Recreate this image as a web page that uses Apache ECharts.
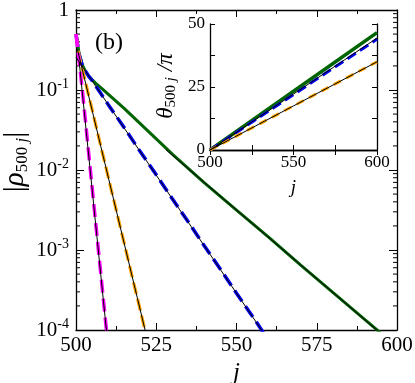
<!DOCTYPE html>
<html><head><meta charset="utf-8">
<script src="https://cdn.jsdelivr.net/npm/echarts@6/dist/echarts.min.js"></script>
<style>html,body{margin:0;padding:0;background:#fff}#c{width:415px;height:383px}</style>
</head><body><div id="c"></div>
<script>
// ---- main panel data: |rho_{500 j}| vs j ----
const jGreen   = [500,501,502,503,504,505,506,508,510,515,520,525,530,540,550,560,570,580,590,595];
const rhoGreen = [0.501,0.282,0.204,0.170,0.148,0.135,0.123,0.105,0.0891,0.0589,0.0380,0.0245,0.0158,0.00692,0.00316,0.00145,0.000646,0.000295,0.000135,0.0000912];
const jBlue    = [500,501,502,503,504,505,506,508,510,515,520,525,530,535,540,545,550,555,560];
const rhoBlue  = [0.501,0.275,0.200,0.170,0.148,0.132,0.115,0.0871,0.0661,0.0339,0.0170,0.00871,0.00437,0.00224,0.00112,0.000575,0.000288,0.000148,0.0000741];
const jOrange  = [500,501,502,503,504,505,506,507,508,509,510,511,512,513,514,515,516,517,518,519,520,521,522];
const rhoOrange= [0.501,0.263,0.182,0.123,0.0832,0.0575,0.0389,0.0263,0.0178,0.0123,0.00832,0.00562,0.00389,0.00263,0.00178,0.00123,0.000832,0.000562,0.000380,0.000263,0.000178,0.000120,0.0000832];
const jMagenta = [500,501,502,503,504,505,506,507,508,509,510];
const rhoMagenta=[0.501,0.224,0.098,0.039,0.0155,0.0062,0.00245,0.00098,0.00039,0.000155,0.000062];
// thin black exponential fits (end points)
const jFitGreen = [528,595],   rhoFitGreen = [0.0180,0.0000902];
const jFitBlue  = [500,560],   rhoFitBlue  = [0.257,0.0000741];
const jFitOrange= [500.5,522], rhoFitOrange= [0.316,0.0000832];
const jFitMag   = [501,510.5], rhoFitMag   = [0.224,0.000039];
// ---- inset data: theta_{500 j}/pi vs j ----
const jInset = [500,550,600];
const thGreen = [0,23.3,46.6];
const thBlue  = [0,22.0,44.0];
const thOrange= [0,17.5,35.0];
const thFitBlue  = [0,22.2,44.4];
const thFitOrange= [0,17.5,35.0];
// tick labels
const xTicksMain = [500,525,550,575,600];
const yDecades = [1e-4,1e-3,1e-2,1e-1,1];

const zip = (a,b)=>a.map((x,i)=>[x,b[i]]);
const serif = "'Liberation Serif', 'Times New Roman', serif";
const minorVals = [];
for (let d=0; d<yDecades.length-1; d++) for (let k=2;k<=9;k++) minorVals.push([500, yDecades[d]*k]);

const tickCommon = {inside:true, length:7, lineStyle:{color:'#000',width:1}};
const axLine = {show:true, lineStyle:{color:'#000', width:1.3}};

const chart = echarts.init(document.getElementById('c'), null, {renderer:'canvas'});
chart.setOption({
  animation:false,
  backgroundColor:'#fff',
  textStyle:{fontFamily:serif},
  grid:[
    {left:76, top:10, width:321, height:320, show:false, containLabel:false, outerBoundsMode:'none'},
    {left:210, top:24, width:167, height:126, show:true, backgroundColor:'#fff', borderWidth:0, z:5, containLabel:false, outerBoundsMode:'none'}
  ],
  xAxis:[
    {type:'value', gridIndex:0, min:500, max:600, interval:25, position:'bottom',
     axisLine:axLine, axisTick:tickCommon, minorTick:{show:true, splitNumber:2, length:4, lineStyle:{color:'#000'}},
     splitLine:{show:false},
     axisLabel:{fontFamily:serif, fontSize:21, color:'#000', margin:5},
     name:'j', nameLocation:'middle', nameGap:28,
     nameTextStyle:{fontFamily:serif, fontStyle:'italic', fontSize:25, color:'#000'}},
    {type:'value', gridIndex:0, min:500, max:600, interval:25, position:'top',
     axisLine:axLine, axisTick:tickCommon, minorTick:{show:true, splitNumber:2, length:4, lineStyle:{color:'#000'}},
     splitLine:{show:false}, axisLabel:{show:false}},
    {type:'value', gridIndex:1, min:500, max:600, interval:50, position:'bottom', z:6,
     axisLine:axLine, axisTick:{inside:true,length:5,lineStyle:{color:'#000'}},
     minorTick:{show:true, splitNumber:2, length:5, lineStyle:{color:'#000'}},
     splitLine:{show:false},
     axisLabel:{fontFamily:serif, fontSize:17, color:'#000', margin:4},
     name:'j', nameLocation:'middle', nameGap:28,
     nameTextStyle:{fontFamily:serif, fontStyle:'italic', fontSize:19, color:'#000'}},
    {type:'value', gridIndex:1, min:500, max:600, interval:50, position:'top', z:6,
     axisLine:axLine, axisTick:{inside:true,length:5,lineStyle:{color:'#000'}},
     minorTick:{show:true, splitNumber:2, length:5, lineStyle:{color:'#000'}},
     splitLine:{show:false}, axisLabel:{show:false}}
  ],
  yAxis:[
    {type:'log', logBase:10, gridIndex:0, min:1e-4, max:1, position:'left',
     axisLine:axLine, axisTick:{inside:true, length:8, lineStyle:{color:'#000'}},
     minorTick:{show:false}, splitLine:{show:false},
     axisLabel:{margin:7, color:'#000',
       formatter:v=>{const e=Math.round(Math.log10(v)); return e===0?'{b|1}':'{b|10}{s|'+e+'}';},
       rich:{b:{fontFamily:serif,fontSize:21,color:'#000',lineHeight:26},
             s:{fontFamily:serif,fontSize:14,color:'#000',verticalAlign:'top',lineHeight:14}}}},
    {type:'log', logBase:10, gridIndex:0, min:1e-4, max:1, position:'right',
     axisLine:axLine, axisTick:{inside:true, length:8, lineStyle:{color:'#000'}},
     minorTick:{show:false}, splitLine:{show:false}, axisLabel:{show:false}},
    {type:'value', gridIndex:1, min:0, max:50, interval:25, position:'left', z:6,
     axisLine:axLine, axisTick:{inside:true,length:5,lineStyle:{color:'#000'}},
     minorTick:{show:true, splitNumber:2, length:5, lineStyle:{color:'#000'}},
     splitLine:{show:false},
     axisLabel:{fontFamily:serif, fontSize:17, color:'#000', margin:5}},
    {type:'value', gridIndex:1, min:0, max:50, interval:25, position:'right', z:6,
     axisLine:axLine, axisTick:{inside:true,length:5,lineStyle:{color:'#000'}},
     minorTick:{show:true, splitNumber:2, length:5, lineStyle:{color:'#000'}},
     splitLine:{show:false}, axisLabel:{show:false}}
  ],
  graphic:[
    {type:'text', left:95, top:31, style:{text:'(b)', fontFamily:serif, fontSize:24, fill:'#000'}},
    {type:'text', x:15, y:162, rotation:Math.PI/2, z:10,
     style:{text:'{a||}{r|ρ}{sub|500 }{sj|j}{a||}', align:'center', verticalAlign:'middle',
       rich:{
         a:{fontFamily:serif,fontSize:30,fill:'#000',lineHeight:32},
         r:{fontFamily:serif,fontSize:29,fontStyle:'italic',fill:'#000',lineHeight:32},
         sub:{fontFamily:serif,fontSize:17,fill:'#000',verticalAlign:'bottom',lineHeight:17},
         sj:{fontFamily:serif,fontSize:17,fontStyle:'italic',fill:'#000',verticalAlign:'bottom',lineHeight:17}}}},
    {type:'text', x:166, y:86, rotation:Math.PI/2, z:10,
     style:{text:'{t|θ}{sub|500 }{sj|j}{t| /π}', align:'center', verticalAlign:'middle',
       rich:{
         t:{fontFamily:serif,fontSize:23,fontStyle:'italic',fill:'#000',lineHeight:26},
         sub:{fontFamily:serif,fontSize:15,fill:'#000',verticalAlign:'bottom',lineHeight:15},
         sj:{fontFamily:serif,fontSize:15,fontStyle:'italic',fill:'#000',verticalAlign:'bottom',lineHeight:15}}}}
  ],
  series:[
    {type:'custom', xAxisIndex:0, yAxisIndex:0, data:minorVals, silent:true, z:3,
     renderItem:(params, api)=>{
       const v = api.value(1);
       const pL = api.coord([500, v]), pR = api.coord([600, v]);
       return {type:'group', children:[
         {type:'line', shape:{x1:pL[0], y1:pL[1], x2:pL[0]+4, y2:pL[1]}, style:{stroke:'#000', lineWidth:1}},
         {type:'line', shape:{x1:pR[0]-4, y1:pR[1], x2:pR[0], y2:pR[1]}, style:{stroke:'#000', lineWidth:1}}
       ]};
     }},
    {type:'line', xAxisIndex:0, yAxisIndex:0, data:zip(jGreen,rhoGreen), showSymbol:false, lineStyle:{color:'#006400', width:3}},
    {type:'line', xAxisIndex:0, yAxisIndex:0, data:zip(jBlue,rhoBlue), showSymbol:false, lineStyle:{color:'#0000f0', width:3.5, type:[13,6]}},
    {type:'line', xAxisIndex:0, yAxisIndex:0, data:zip(jOrange,rhoOrange), showSymbol:false, lineStyle:{color:'#ffa500', width:3.2, type:[12,5]}},
    {type:'line', xAxisIndex:0, yAxisIndex:0, data:zip(jMagenta,rhoMagenta), showSymbol:false, lineStyle:{color:'#ff00ff', width:3.5, type:[13,6]}},
    {type:'line', xAxisIndex:0, yAxisIndex:0, data:zip(jFitGreen,rhoFitGreen), showSymbol:false, lineStyle:{color:'#000', width:1}},
    {type:'line', xAxisIndex:0, yAxisIndex:0, data:zip(jFitBlue,rhoFitBlue), showSymbol:false, lineStyle:{color:'#000', width:1}},
    {type:'line', xAxisIndex:0, yAxisIndex:0, data:zip(jFitOrange,rhoFitOrange), showSymbol:false, lineStyle:{color:'#000', width:1}},
    {type:'line', xAxisIndex:0, yAxisIndex:0, data:zip(jFitMag,rhoFitMag), showSymbol:false, lineStyle:{color:'#000', width:1}},
    {type:'line', xAxisIndex:2, yAxisIndex:2, data:zip(jInset,thGreen), showSymbol:false, z:6, lineStyle:{color:'#006400', width:3.5}},
    {type:'line', xAxisIndex:2, yAxisIndex:2, data:zip(jInset,thBlue), showSymbol:false, z:6, lineStyle:{color:'#0000f0', width:3, type:[10,5]}},
    {type:'line', xAxisIndex:2, yAxisIndex:2, data:zip(jInset,thOrange), showSymbol:false, z:6, lineStyle:{color:'#ffa500', width:3, type:[8,6]}},
    {type:'line', xAxisIndex:2, yAxisIndex:2, data:zip(jInset,thFitBlue), showSymbol:false, z:6, lineStyle:{color:'#000', width:1}},
    {type:'line', xAxisIndex:2, yAxisIndex:2, data:zip(jInset,thFitOrange), showSymbol:false, z:6, lineStyle:{color:'#000', width:1}}
  ]
});
</script>
</body></html>
